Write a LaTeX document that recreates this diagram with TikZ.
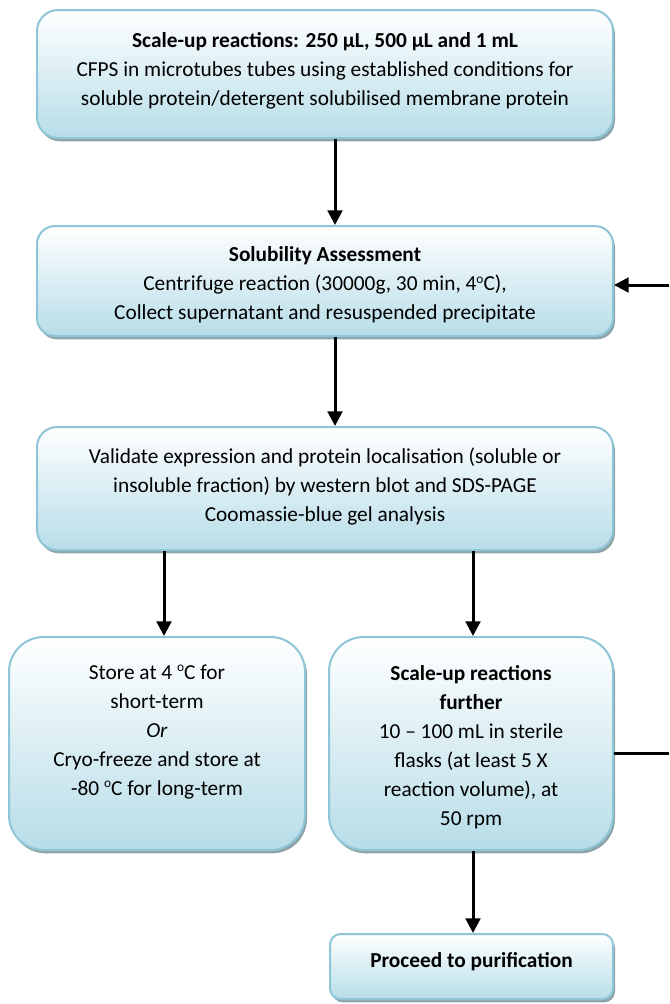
\documentclass[tikz,border=0pt]{standalone}
\usepackage{fontspec}
\setmainfont{Carlito}
\usetikzlibrary{arrows.meta,shadows}

\definecolor{boxedge}{HTML}{8EC6D8}
\definecolor{boxfill}{HTML}{B7DDE8}
\definecolor{boxshadow}{HTML}{8FA3AA}

% small raised "o" used as the degree mark
\newcommand{\degmark}{\raisebox{0.75ex}{\fontsize{10}{10}\selectfont o}}

\tikzset{
  stage/.style={draw=boxedge, line width=1.5pt, top color=white, bottom color=boxfill,
    rounded corners=#1, inner sep=0pt,
    drop shadow={shadow xshift=1.5pt, shadow yshift=-2.5pt, fill=boxshadow, opacity=1}},
  label text/.style={align=center, inner sep=0pt, font=\fontsize{16}{21.75}\selectfont},
  connector/.style={line width=2.25pt},
  flow/.style={connector, -{Triangle[width=11pt,length=11pt]}},
}

\begin{document}
\begin{tikzpicture}[x=0.75pt, y=-0.75pt]
  \useasboundingbox (0,0) rectangle (669,1004);

  % process boxes
  \node[stage=15.75pt, minimum width=432pt, minimum height=96pt] (b1) at (325,74) {};
  \node[stage=13.5pt, minimum width=432pt, minimum height=82.5pt] (b2) at (325,281) {};
  \node[stage=15pt, minimum width=432pt, minimum height=92.25pt] (b3) at (325,488.5) {};
  \node[stage=26pt, minimum width=222pt, minimum height=159.75pt] (b4) at (157,743.5) {};
  \node[stage=26pt, minimum width=213pt, minimum height=159.75pt] (b5) at (471,743.5) {};
  \node[stage=8pt, minimum width=212.25pt, minimum height=48.75pt] (b6) at (471.5,966.5) {};

  % box texts
  \node[label text] (t1) at (325,71) {\textbf{Scale-up reactions: 250 µL, 500 µL and 1 mL}\\
    CFPS in microtubes tubes using established conditions for\\
    soluble protein/detergent solubilised membrane protein};
  \node[label text] (t2) at (325,285) {\textbf{Solubility Assessment}\\
    Centrifuge reaction (30000g, 30 min, 4\degmark C),\\
    Collect supernatant and resuspended precipitate};
  \node[label text] (t3) at (325,487) {Validate expression and protein localisation (soluble or\\
    insoluble fraction) by western blot and SDS-PAGE\\
    Coomassie-blue gel analysis};
  \node[label text] (t4) at (157,732) {Store at 4 \degmark C for\\
    short-term\\
    \textit{Or}\\
    Cryo-freeze and store at\\
    -80 \degmark C for long-term};
  \node[label text] (t5) at (471,747) {\textbf{Scale-up reactions}\\
    \textbf{further}\\
    10 – 100 mL in sterile\\
    flasks (at least 5 X\\
    reaction volume), at\\
    50 rpm};
  \node[label text] (t6) at (471.5,962) {\textbf{Proceed to purification}};

  % connector columns
  \coordinate (xa) at (335,0);
  \coordinate (xl) at (164,0);
  \coordinate (xr) at (473,0);

  \draw[flow] (b1.south -| xa) -- (b2.north -| xa);
  \draw[flow] (b2.south -| xa) -- (b3.north -| xa);
  \draw[flow] (b3.south -| xl) -- (b4.north -| xl);
  \draw[flow] (b3.south -| xr) -- (b5.north -| xr);
  \draw[flow] (b5.south -| xr) -- (b6.north -| xr);

  % return loop to the solubility step
  \coordinate (fbIn) at (669,285);
  \coordinate (fbOut) at (669,753);
  \draw[connector] (b5.east |- fbOut) -- (fbOut);
  \draw[flow] (fbIn) -- (fbIn -| b2.east);
\end{tikzpicture}
\end{document}
